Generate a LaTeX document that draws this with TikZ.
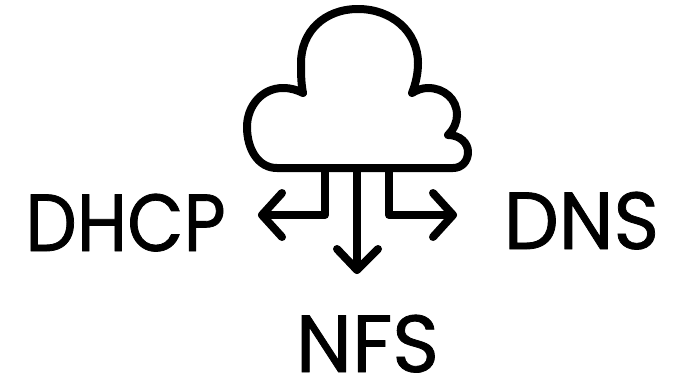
\documentclass[tikz,border=0pt]{standalone}
\usepackage{fontspec}
\setmainfont[FakeBold=1]{Poppins}
\tikzset{
  icon/.style={draw=black,line width=8pt,line cap=round,line join=round},
  lbl/.style={inner sep=0pt,anchor=base,font=\fontsize{81}{81}\selectfont,text=black,transform shape}
}
\begin{document}
\begin{tikzpicture}[x=1pt,y=-1pt]
\useasboundingbox (0,0) rectangle (684,380);
\coordinate (l0) at (325,168);
\coordinate (m0) at (357,168);
\coordinate (r0) at (389,168);
\coordinate (lc) at (325,215);
\coordinate (rc) at (389,215);
\coordinate (lt) at (262,215);
\coordinate (rt) at (453,215);
\coordinate (mt) at (357,270);
\draw[icon,fill=white] (277,168) -- (453,168)
  .. controls (462,168) and (468,161) .. (468,152)
  .. controls (468,143) and (460,135) .. (448,135)
  .. controls (454,129) and (457,122) .. (457,115)
  .. controls (457,99) and (444,88) .. (428,88)
  .. controls (422,88) and (417,90) .. (412,93)
  .. controls (416,83) and (418,73) .. (418,63)
  .. controls (418,32) and (392,9) .. (358,9)
  .. controls (324,9) and (301,32) .. (301,63)
  .. controls (301,73) and (301,83) .. (303,93)
  .. controls (297,90) and (291,88) .. (283,88)
  .. controls (262,88) and (247,106) .. (247,127)
  .. controls (247,149) and (258,168) .. (277,168) -- cycle;
\draw[icon] (l0) -- (lc) -- (lt);
\draw[icon] (r0) -- (rc) -- (rt);
\draw[icon] (m0) -- (mt);
\coordinate (la) at (282,193); \coordinate (lb) at (282,237);
\coordinate (ra) at (433,193); \coordinate (rb) at (433,237);
\coordinate (ma) at (337,249); \coordinate (mb) at (378,249);
\draw[icon] (la) -- (lt) -- (lb);
\draw[icon] (ra) -- (rt) -- (rb);
\draw[icon] (ma) -- (mt) -- (mb);
\node[lbl,xscale=0.9] (dhcp) at (125.5,251) {DHCP};
\node[lbl,xscale=0.96] (dns) at (581.5,249) {DNS};
\node[lbl,xscale=0.985] (nfs) at (367.5,372) {NFS};
\end{tikzpicture}
\end{document}
